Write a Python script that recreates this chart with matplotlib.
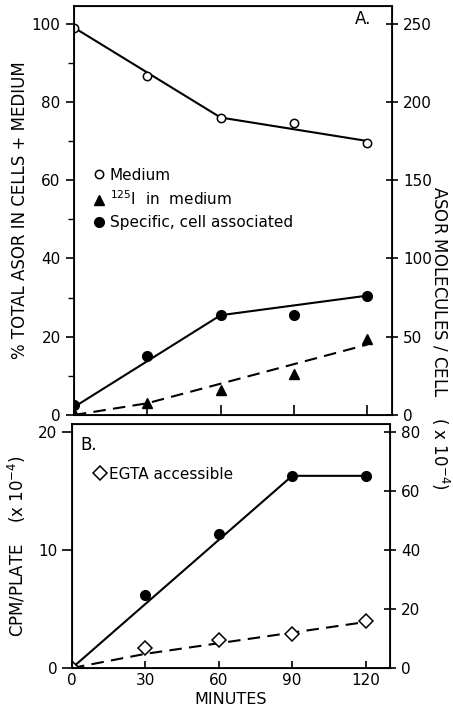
import matplotlib
matplotlib.use("Agg")
import matplotlib.pyplot as plt
from matplotlib.ticker import MultipleLocator

# ---- Data (panel A) ----
minutes = [0, 30, 60, 90, 120]
medium = [99, 86.5, 76, 74.5, 69.5]
iodide_medium = [0.5, 3, 6.5, 10.5, 19.5]
cell_assoc = [2.5, 15, 25.5, 25.5, 30.5]
# fitted lines drawn through panel A data
medium_fit_x = [0, 60, 120]
medium_fit = [99, 76, 70]
cell_fit_x = [0, 60, 120]
cell_fit = [2, 25.5, 30.5]
iodide_fit_x = [0, 30, 120]
iodide_fit = [0, 3, 18]

# ---- Data (panel B) ----
cpm_specific = [0, 6.2, 11.4, 16.3, 16.3]
egta = [0, 1.7, 2.4, 2.9, 4.0]
cpm_fit_x = [0, 90, 120]
cpm_fit = [0, 16.3, 16.3]
egta_fit_x = [0, 30, 120]
egta_fit = [0, 1.2, 3.9]

xticks = [0, 30, 60, 90, 120]

plt.rcParams['font.family'] = ['DejaVu Sans']
plt.rcParams['font.size'] = 11

fig = plt.figure(figsize=(4.53, 7.11), dpi=100)
axA = fig.add_axes([0.163, 0.4163, 0.702, 0.5753])
axB = fig.add_axes([0.159, 0.0605, 0.702, 0.3432])

dash = (0, (6, 3.5))

# Panel A
axA.plot(medium_fit_x, medium_fit, color='black', lw=1.5)
axA.plot(cell_fit_x, cell_fit, color='black', lw=1.5)
axA.plot(iodide_fit_x, iodide_fit, color='black', lw=1.5, linestyle=dash)
hm, = axA.plot(minutes, medium, 'o', mfc='white', mec='black', mew=1.1, ms=6, linestyle='none', label='Medium')
hi, = axA.plot(minutes, iodide_medium, '^', color='black', ms=7, linestyle='none', label=r'$^{125}$I  in  medium')
hc, = axA.plot(minutes, cell_assoc, 'o', color='black', ms=7, linestyle='none', label='Specific, cell associated')
axA.set_xlim(0, 130)
axA.set_ylim(0, 104.5)
axA.set_xticks(xticks)
axA.set_xticklabels([])
axA.set_yticks([0, 20, 40, 60, 80, 100])
axA.yaxis.set_minor_locator(MultipleLocator(10))
axA.tick_params(axis='x', direction='in', length=7, width=1.2)
axA.tick_params(axis='y', which='major', direction='out', length=6, width=1.2, labelsize=11)
axA.tick_params(axis='y', which='minor', direction='out', length=4, width=1.0)
axA.set_ylabel('% TOTAL ASOR IN CELLS + MEDIUM', fontsize=12)
axA.yaxis.set_label_coords(-0.14, 0.5)
axA.text(0.935, 0.99, 'A.', transform=axA.transAxes, fontsize=12, ha='right', va='top')
leg = axA.legend(handles=[hm, hi, hc], loc='upper left', bbox_to_anchor=(0.05, 0.62),
                 frameon=False, handlelength=0.4, handletextpad=0.5, labelspacing=0.45,
                 fontsize=11, borderaxespad=0)
for sp in axA.spines.values():
    sp.set_linewidth(1.3)

axA2 = axA.twinx()
axA2.set_ylim(0, 104.5 * 2.5)
axA2.set_yticks([0, 50, 100, 150, 200, 250])
axA2.tick_params(axis='y', direction='inout', length=9, width=1.2, labelsize=11)

# Panel B
axB.plot(cpm_fit_x, cpm_fit, color='black', lw=1.5)
axB.plot(egta_fit_x, egta_fit, color='black', lw=1.5, linestyle=dash)
axB.plot(minutes, cpm_specific, 'o', color='black', ms=7, linestyle='none')
he, = axB.plot(minutes, egta, 'D', mfc='white', mec='black', mew=1.1, ms=7, linestyle='none', label='EGTA accessible')
axB.set_xlim(0, 130)
axB.set_ylim(0, 20.7)
axB.set_xticks(xticks)
axB.set_yticks([0, 10, 20])
axB.tick_params(axis='x', direction='in', length=5, width=1.2, labelsize=11)
axB.tick_params(axis='y', direction='out', length=7, width=1.2, labelsize=11)
axB.set_xlabel('MINUTES', fontsize=11.5, labelpad=3)
axB.set_ylabel(r'CPM/PLATE    (x 10$^{-4}$)', fontsize=12)
axB.yaxis.set_label_coords(-0.14, 0.5)
axB.text(0.025, 0.95, 'B.', transform=axB.transAxes, fontsize=12, ha='left', va='top')
axB.legend(handles=[he], loc='upper left', bbox_to_anchor=(0.06, 0.85), frameon=False,
           handlelength=0.4, handletextpad=0.4, fontsize=11, borderaxespad=0)
for sp in axB.spines.values():
    sp.set_linewidth(1.3)

axB2 = axB.twinx()
axB2.set_ylim(0, 20.7 * 4)
axB2.set_yticks([0, 20, 40, 60, 80])
axB2.tick_params(axis='y', direction='inout', length=9, width=1.2, labelsize=11)

fig.text(0.972, 0.525, r'ASOR MOLECULES / CELL    ( x 10$^{-4}$)', rotation=-90,
         ha='center', va='center', fontsize=12)

fig.savefig('out.png', dpi=100)
